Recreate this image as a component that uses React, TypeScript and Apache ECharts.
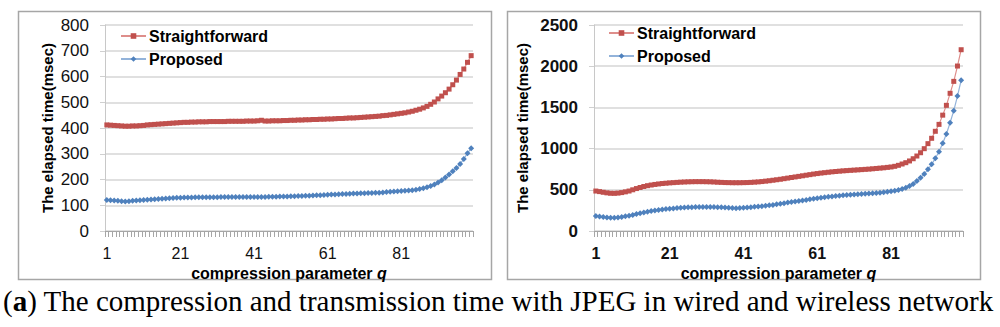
import React, { useEffect, useRef } from "react";
import * as echarts from "echarts";

const Q_VALUES: string[] = Array.from({ length: 100 }, (_, i) => String(i + 1));
const X_TICK_LABELS = ["1", "21", "41", "61", "81"];
const SERIES_NAMES = ["Straightforward", "Proposed"];

const WIRED_STRAIGHTFORWARD = [
  412, 411, 410, 409, 408, 407, 407, 408, 408, 409,
  410, 412, 413, 414, 415, 416, 417, 418, 419, 420,
  421, 422, 422, 423, 423, 424, 424, 424, 425, 425,
  425, 425, 425, 426, 426, 426, 426, 426, 427, 427,
  427, 428, 430, 427, 427, 428, 428, 428, 429, 429,
  430, 430, 431, 431, 432, 432, 433, 433, 434, 434,
  435, 435, 436, 437, 437, 438, 439, 439, 440, 441,
  442, 443, 444, 445, 446, 448, 449, 451, 453, 455,
  457, 459, 462, 465, 469, 473, 478, 484, 492, 501,
  513, 524, 537, 551, 568, 586, 608, 629, 655, 681,
];

const WIRED_PROPOSED = [
  120, 119, 118, 117, 116, 115, 116, 117, 118, 119,
  120, 121, 122, 123, 124, 125, 126, 127, 128, 129,
  129, 130, 130, 130, 131, 131, 131, 131, 131, 131,
  131, 132, 132, 132, 132, 132, 132, 132, 132, 132,
  132, 132, 132, 132, 133, 133, 133, 134, 134, 134,
  135, 135, 136, 136, 137, 137, 138, 139, 139, 140,
  141, 142, 142, 143, 144, 144, 145, 146, 146, 147,
  147, 148, 148, 149, 149, 150, 151, 152, 153, 154,
  155, 156, 157, 158, 160, 163, 166, 170, 175, 181,
  188, 197, 208, 219, 232, 245, 260, 280, 302, 321,
];

const WIRELESS_STRAIGHTFORWARD = [
  485, 478, 470, 463, 458, 457, 460, 466, 475, 485,
  500, 515, 528, 540, 550, 558, 565, 571, 576, 580,
  584, 587, 590, 593, 595, 597, 598, 599, 599, 599,
  598, 597, 595, 592, 590, 588, 587, 586, 586, 586,
  587, 588, 590, 593, 596, 600, 605, 610, 616, 622,
  628, 635, 642, 649, 656, 663, 670, 677, 684, 691,
  697, 703, 708, 713, 718, 722, 726, 730, 733, 736,
  739, 742, 745, 748, 751, 755, 759, 763, 767, 772,
  777, 785, 797, 813, 829, 850, 877, 910, 950, 999,
  1060, 1125, 1210, 1294, 1406, 1525, 1671, 1816, 2002, 2200,
];

const WIRELESS_PROPOSED = [
  182, 176, 170, 165, 162, 162, 165, 170, 178, 186,
  195, 205, 215, 225, 234, 242, 249, 255, 261, 266,
  270, 274, 278, 281, 284, 287, 289, 291, 292, 292,
  292, 291, 290, 289, 288, 286, 283, 279, 277, 278,
  281, 285, 289, 293, 297, 301, 306, 311, 317, 324,
  331, 338, 345, 352, 358, 364, 370, 377, 384, 391,
  398, 404, 410, 415, 420, 425, 429, 433, 437, 440,
  443, 446, 449, 452, 455, 458, 461, 465, 470, 476,
  482, 489, 498, 510, 526, 546, 570, 607, 647, 692,
  749, 809, 882, 962, 1064, 1177, 1314, 1460, 1638, 1829,
];

const FONT = "'Liberation Sans', Arial, sans-serif";
const SERIF = "'Liberation Serif', 'Times New Roman', serif";
const RED = "#c0504d";
const RED_LINE = "#de8e8b";
const BLUE = "#4f81bd";
const BLUE_LINE = "#93b3da";

function xAxisFor(gridIndex: number, bold: boolean) {
  return {
    type: "category",
    gridIndex,
    data: Q_VALUES,
    boundaryGap: true,
    axisLine: { show: true, lineStyle: { color: "#a6a6a6", width: 1 } },
    axisTick: { show: true, interval: 0, length: 6, lineStyle: { color: "#a6a6a6" } },
    axisLabel: {
      interval: (_i: number, v: string) => X_TICK_LABELS.includes(v),
      margin: 14,
      fontSize: 16,
      fontFamily: FONT,
      fontWeight: bold ? "bold" : "normal",
      color: "#111",
    },
    splitLine: { show: false },
    name: "compression parameter {i|q}",
    nameLocation: "middle",
    nameGap: 25,
    nameTextStyle: {
      fontSize: 16,
      fontWeight: "bold",
      fontFamily: FONT,
      color: "#000",
      rich: { i: { fontSize: 16, fontWeight: "bold", fontStyle: "italic", fontFamily: FONT, color: "#000" } },
    },
  };
}

function yAxisFor(gridIndex: number, max: number, interval: number, bold: boolean, gap: number) {
  return {
    type: "value",
    gridIndex,
    min: 0,
    max,
    interval,
    axisLine: { show: true, lineStyle: { color: "#c8c8c8", width: 1 } },
    axisTick: { show: true, length: 5, lineStyle: { color: "#d0d0d0" } },
    axisLabel: {
      margin: 16,
      fontSize: 17,
      fontFamily: FONT,
      fontWeight: bold ? "bold" : "normal",
      color: "#111",
      formatter: (v: number) => String(v),
    },
    splitLine: { show: true, lineStyle: { color: "#d6d6d6", width: 1.5 } },
    name: "The elapsed time(msec)",
    nameLocation: "middle",
    nameRotate: 90,
    nameGap: gap,
    nameTextStyle: { fontSize: 15, fontWeight: "bold", fontFamily: FONT, color: "#000" },
  };
}

function seriesFor(idx: number, red: number[], blue: number[], redSize: number, blueSize: number) {
  return [
    {
      name: SERIES_NAMES[0],
      type: "line",
      xAxisIndex: idx,
      yAxisIndex: idx,
      data: red,
      symbol: "rect",
      symbolSize: redSize,
      showSymbol: true,
      showAllSymbol: true,
      itemStyle: { color: RED },
      lineStyle: { color: RED_LINE, width: 1.2 },
    },
    {
      name: SERIES_NAMES[1],
      type: "line",
      xAxisIndex: idx,
      yAxisIndex: idx,
      data: blue,
      symbol: "diamond",
      symbolSize: blueSize,
      showSymbol: true,
      showAllSymbol: true,
      itemStyle: { color: BLUE },
      lineStyle: { color: BLUE_LINE, width: 1.2 },
    },
  ];
}

function legendFor(left: number, top: number) {
  return {
    data: SERIES_NAMES,
    orient: "vertical",
    left,
    top,
    padding: 0,
    itemWidth: 25,
    itemHeight: 7,
    itemGap: 7,
    selectedMode: false,
    textStyle: { fontSize: 16, fontWeight: "bold", fontFamily: FONT, color: "#000", padding: [0, 0, 0, -2] },
  };
}

export default function App() {
  const ref = useRef<HTMLDivElement>(null);

  useEffect(() => {
    if (!ref.current) return;
    const chart = echarts.init(ref.current, null, { renderer: "svg" });
    chart.setOption({
      animation: false,
      backgroundColor: "#fff",
      grid: [
        { left: 105, right: 527, top: 25, bottom: 96 },
        { left: 594, right: 37, top: 25, bottom: 96 },
      ],
      xAxis: [xAxisFor(0, false), xAxisFor(1, true)],
      yAxis: [yAxisFor(0, 800, 100, false, 50), yAxisFor(1, 2500, 500, true, 64)],
      legend: [legendFor(120, 28), legendFor(608, 25)],
      series: [
        ...seriesFor(0, WIRED_STRAIGHTFORWARD, WIRED_PROPOSED, 5, 6),
        ...seriesFor(1, WIRELESS_STRAIGHTFORWARD, WIRELESS_PROPOSED, 5, 6),
      ],
      graphic: [
        {
          type: "rect",
          shape: { x: 18.5, y: 11.5, width: 473, height: 268 },
          style: { fill: "none", stroke: "#a6a6a6", lineWidth: 1.5 },
          silent: true,
        },
        {
          type: "rect",
          shape: { x: 507.5, y: 11.5, width: 473, height: 268 },
          style: { fill: "none", stroke: "#a6a6a6", lineWidth: 1.5 },
          silent: true,
        },
        {
          type: "text",
          x: 3,
          y: 301,
          style: {
            text: "({b|a}) The compression and transmission time with JPEG in wired and wireless network",
            fontSize: 29,
            fontFamily: SERIF,
            fill: "#000",
            verticalAlign: "middle",
            align: "left",
            rich: {
              b: { fontSize: 29, fontWeight: "bold", fontFamily: SERIF, fill: "#000" },
            },
          },
          silent: true,
        },
      ],
    });
    return () => chart.dispose();
  }, []);

  return (
    <div
      ref={ref}
      style={{ position: "fixed", left: 0, top: 0, width: 1000, height: 327, background: "#fff" }}
    />
  );
}
